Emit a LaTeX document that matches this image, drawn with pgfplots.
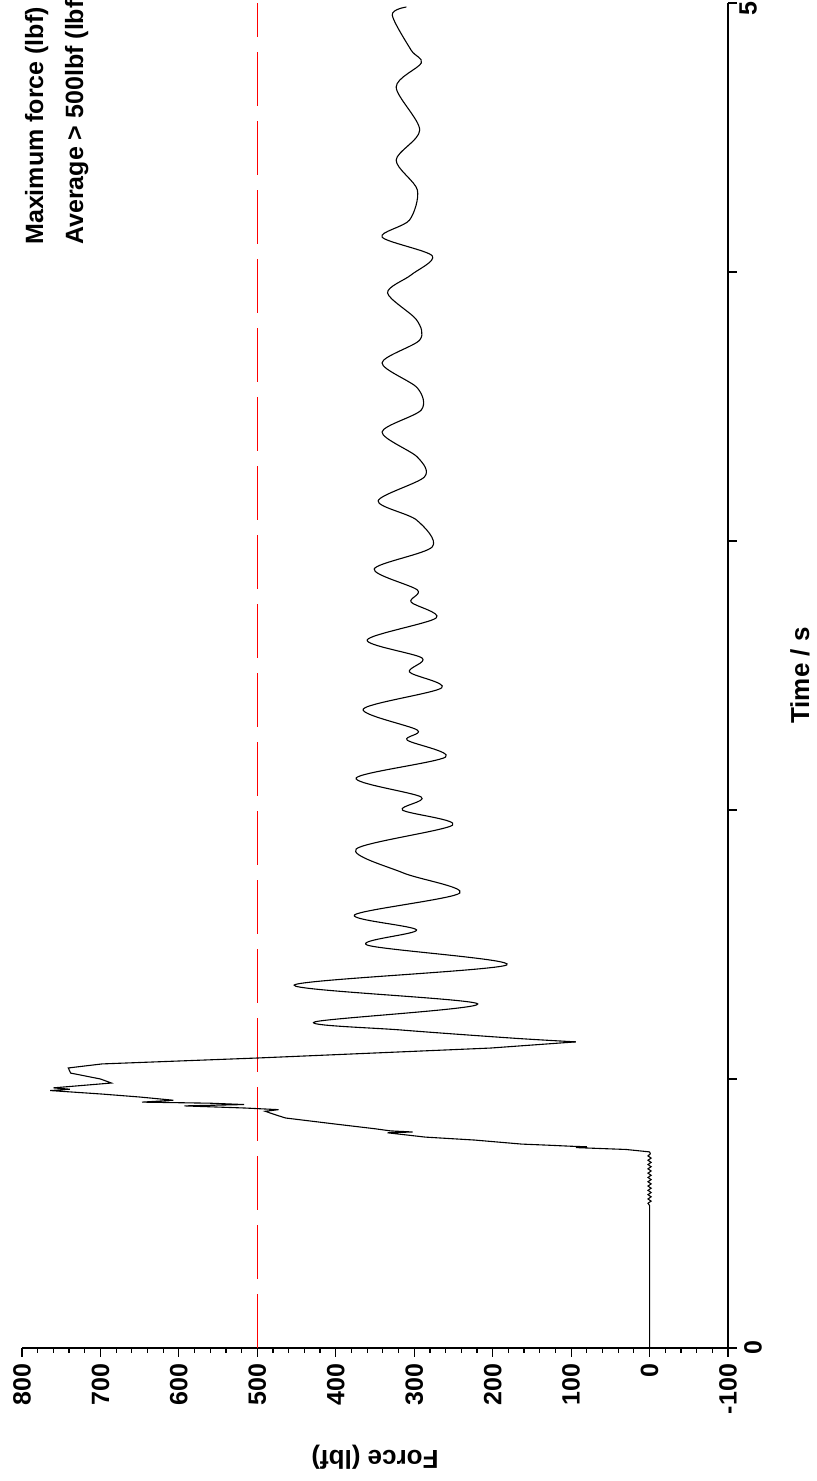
\documentclass[border=0pt]{standalone}
\usepackage{pgfplots}
\pgfplotsset{compat=1.18}
\usepackage{fontspec}
\setmainfont{Liberation Sans}
\begin{document}
\begin{tikzpicture}
\begin{axis}[
  at={(176.5pt,336.25pt)}, anchor=center,
  scale only axis, width=353pt, height=672.5pt,
  xmin=-100, xmax=800, ymin=0, ymax=5,
  x dir=reverse,
  axis x line*=bottom, axis y line*=right,
  axis line style={line width=0.75pt},
  xtick={-100,0,...,800}, minor x tick num=4,
  ytick={0,1,2,3,4,5}, yticklabels={0,,,,,},
  tick align=outside,
  major tick length=4.5pt, minor tick length=2.5pt,
  tick style={black, line width=0.6pt},
  /pgf/number format/assume math mode=true,
  xticklabel style={rotate=90, anchor=east, font=\fontsize{12.5}{14}\selectfont\bfseries},
  yticklabel style={rotate=90, anchor=north, font=\fontsize{12.5}{14}\selectfont\bfseries},
  clip=false,
]
\addplot[red, line width=0.75pt, dash pattern=on 27pt off 7.5pt] coordinates {(500,0) (500,5)};
\addplot[black, line width=0.55pt] table {
F t
0 0
0 0.53
2 0.538
-2 0.546
2 0.554
-2 0.562
2 0.570
-2 0.578
2 0.586
-2 0.594
2 0.602
-2 0.610
2 0.618
-2 0.626
2 0.634
-2 0.642
2 0.650
-2 0.658
2 0.666
-2 0.674
2 0.682
-2 0.690
2 0.698
-2 0.706
2 0.714
-1 0.722
0 0.729
30 0.738
94 0.745
80 0.748
100 0.750
130 0.754
163 0.758
223 0.773
286 0.784
334 0.800
302 0.803
330 0.807
350 0.815
402 0.833
464 0.855
476 0.866
490 0.880
473 0.886
515 0.892
593 0.900
517 0.905
560 0.910
647 0.914
607 0.921
650 0.933
698 0.944
764 0.957
739 0.962
760 0.967
686 0.985
700 1.000
738 1.022
741 1.041
698 1.056
500 1.078
203 1.115
94 1.138
};
\addplot[black, line width=0.55pt, smooth] table {
F t
94 1.138
175 1.152
316 1.182
427 1.212
219 1.279
453 1.349
182 1.424
360 1.498
297 1.554
376 1.610
242 1.691
314 1.766
374 1.855
251 1.944
315 2.000
291 2.048
374 2.119
260 2.197
309 2.260
296 2.297
365 2.375
265 2.454
306 2.513
290 2.565
360 2.632
272 2.714
304 2.773
296 2.818
351 2.896
277 2.978
297 3.078
346 3.149
287 3.238
296 3.312
341 3.405
291 3.487
296 3.569
341 3.662
293 3.747
297 3.822
334 3.922
304 3.989
277 4.060
341 4.130
306 4.193
296 4.305
323 4.416
293 4.528
323 4.688
291 4.777
304 4.825
328 4.955
310 4.985
};
\node[xshift=3.5pt, yshift=-3pt, rotate=90, anchor=north, inner sep=2pt, font=\fontsize{12.5}{14}\selectfont\bfseries] at (axis cs:-100,5) {5};
\node[yshift=-54.5pt, rotate=180, font=\fontsize{13}{15}\selectfont\bfseries] at (axis cs:350,0) {Force (lbf)};
\node[xshift=36pt, rotate=90, font=\fontsize{13}{15}\selectfont\bfseries] at (axis cs:-100,2.5) {Time / s};
\node[rotate=90, anchor=base west, inner sep=0pt, font=\fontsize{12.5}{14}\selectfont\bfseries] at (axis cs:773,4.10) {Maximum force (lbf)};
\node[rotate=90, anchor=base west, inner sep=0pt, font=\fontsize{12.5}{14}\selectfont\bfseries] at (axis cs:722,4.10) {Average > 500lbf (lbf)};
\end{axis}
\pgfresetboundingbox
\useasboundingbox (-11pt,-66.5pt) rectangle (397pt,674pt);
\end{tikzpicture}
\end{document}
